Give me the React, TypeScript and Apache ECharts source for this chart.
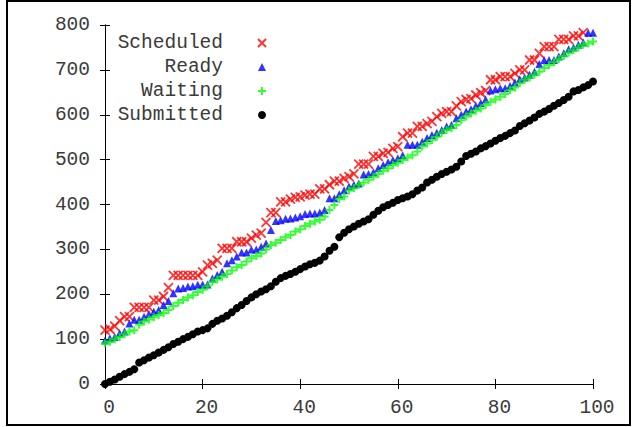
import React, { useEffect, useRef } from "react";
import * as echarts from "echarts";

const seriesNames = ["Scheduled", "Ready", "Waiting", "Submitted"];
const xTicks = [0, 20, 40, 60, 80, 100];
const yTicks = [0, 100, 200, 300, 400, 500, 600, 700, 800];

// Values indexed by x = 0, 1, 2, ...
const scheduled = [
  120, 122, 129, 141, 150, 150, 171, 171, 171, 171,
  187, 187, 195, 215, 242, 242, 242, 242, 242, 242,
  250, 265, 269, 276, 302, 302, 302, 317, 317, 317,
  325, 332, 336, 360, 382, 382, 406, 406, 412, 416,
  417, 421, 423, 423, 435, 435, 444, 452, 452, 458,
  462, 468, 490, 490, 490, 507, 507, 514, 516, 525,
  529, 551, 559, 559, 574, 574, 580, 585, 596, 603,
  607, 607, 620, 629, 634, 636, 644, 649, 654, 678,
  678, 685, 685, 685, 692, 700, 700, 722, 722, 737,
  752, 752, 752, 768, 768, 768, 776, 776, 783,
];
const ready = [
  97, 102, 105, 113, 117, 135, 143, 143, 150, 156,
  161, 165, 176, 185, 202, 213, 214, 217, 218, 221,
  222, 222, 235, 243, 250, 269, 276, 284, 293, 293,
  300, 300, 306, 313, 343, 363, 365, 368, 369, 371,
  374, 379, 380, 380, 382, 388, 414, 414, 423, 432,
  440, 444, 447, 467, 468, 472, 481, 488, 494, 499,
  503, 510, 533, 533, 533, 540, 548, 555, 560, 566,
  574, 577, 592, 600, 607, 612, 620, 626, 634, 654,
  657, 659, 659, 664, 672, 679, 683, 689, 696, 713,
  722, 722, 722, 730, 737, 746, 750, 756, 761, 783,
  783,
];
const waiting = [
  91, 94, 100, 105, 111, 117, 120, 132, 139, 144,
  149, 154, 158, 165, 174, 181, 187, 193, 198, 205,
  210, 218, 228, 233, 239, 245, 253, 260, 265, 273,
  280, 285, 291, 300, 310, 315, 321, 327, 332, 340,
  345, 352, 357, 362, 366, 373, 388, 399, 412, 418,
  431, 436, 444, 449, 455, 462, 468, 475, 481, 488,
  493, 499, 505, 510, 518, 529, 536, 544, 551, 560,
  566, 570, 577, 588, 596, 603, 609, 614, 622, 629,
  634, 640, 646, 655, 661, 670, 678, 683, 689, 696,
  704, 711, 717, 724, 731, 738, 744, 750, 756, 759,
  763,
];
const submitted = [
  0, 5, 10, 16, 22, 27, 33, 48, 53, 59,
  64, 70, 76, 82, 89, 94, 100, 105, 111, 117,
  120, 124, 134, 141, 146, 152, 160, 169, 176, 185,
  193, 200, 206, 211, 218, 228, 236, 241, 245, 250,
  256, 262, 267, 270, 275, 284, 297, 306, 327, 337,
  345, 351, 357, 362, 367, 377, 386, 394, 399, 404,
  410, 414, 418, 423, 431, 438, 449, 455, 462, 468,
  473, 478, 484, 496, 508, 513, 518, 525, 530, 536,
  542, 548, 553, 559, 565, 575, 581, 587, 594, 602,
  607, 613, 620, 626, 633, 640, 652, 655, 661, 666,
  674,
];

const FONT = "'Liberation Mono', 'Courier New', monospace";
const TEXT_COLOR = "#3a3a3a";

const toPoints = (arr: number[]) => arr.map((v, i) => [i, v]);

export default function App() {
  const ref = useRef<HTMLDivElement>(null);

  useEffect(() => {
    if (!ref.current) return;
    const chart = echarts.init(ref.current, undefined, { renderer: "svg" });

    const axisLine = { show: true, lineStyle: { color: "#000", width: 1 } };
    const axisTick = { show: true, inside: true, length: 5, lineStyle: { color: "#000", width: 1 } };
    const label = { fontFamily: FONT, fontSize: 19.5, color: TEXT_COLOR };

    chart.setOption({
      animation: false,
      backgroundColor: "#fff",
      grid: { left: 105, top: 25, width: 488, height: 359, containLabel: false },
      graphic: [
        {
          type: "rect",
          shape: { x: 7, y: 1, width: 623, height: 424 },
          style: { fill: "none", stroke: "#000", lineWidth: 2 },
          silent: true,
        },
      ],
      legend: {
        orient: "vertical",
        align: "right",
        right: 366,
        top: 31,
        padding: 0,
        itemGap: 0,
        itemWidth: 8,
        itemHeight: 8,
        data: seriesNames,
        textStyle: { ...label, lineHeight: 24, padding: [0, 30, 0, 0] },
      },
      xAxis: [
        {
          type: "value",
          position: "bottom",
          min: xTicks[0],
          max: xTicks[xTicks.length - 1],
          interval: 20,
          axisLine,
          axisTick,
          splitLine: { show: false },
          axisLabel: { ...label, margin: 14, padding: [0, 0, 0, 8] },
        },
        {
          type: "value",
          position: "top",
          min: xTicks[0],
          max: xTicks[xTicks.length - 1],
          interval: 20,
          axisLine,
          axisTick,
          splitLine: { show: false },
          axisLabel: { show: false },
        },
      ],
      yAxis: [
        {
          type: "value",
          position: "left",
          min: yTicks[0],
          max: yTicks[yTicks.length - 1],
          interval: 100,
          axisLine,
          axisTick,
          splitLine: { show: false },
          axisLabel: { ...label, margin: 15 },
        },
        {
          type: "value",
          position: "right",
          min: yTicks[0],
          max: yTicks[yTicks.length - 1],
          interval: 100,
          axisLine,
          axisTick,
          splitLine: { show: false },
          axisLabel: { show: false },
        },
      ],
      series: [
        {
          name: seriesNames[0],
          type: "scatter",
          data: toPoints(scheduled),
          symbol: "path://M0,0L10,10M10,0L0,10",
          symbolSize: 9,
          itemStyle: { color: "rgba(0,0,0,0)", borderColor: "#ff0000", borderWidth: 1.8 },
        },
        {
          name: seriesNames[1],
          type: "scatter",
          data: toPoints(ready),
          symbol: "triangle",
          symbolSize: 8,
          itemStyle: { color: "#0000ff" },
        },
        {
          name: seriesNames[2],
          type: "scatter",
          data: toPoints(waiting),
          symbol: "path://M5,0L5,10M0,5L10,5",
          symbolSize: 8,
          itemStyle: { color: "rgba(0,0,0,0)", borderColor: "#00ff00", borderWidth: 2 },
        },
        {
          name: seriesNames[3],
          type: "scatter",
          data: toPoints(submitted),
          symbol: "circle",
          symbolSize: 8,
          itemStyle: { color: "#000", opacity: 1 },
        },
      ],
    });

    return () => chart.dispose();
  }, []);

  return (
    <div
      ref={ref}
      style={{ position: "absolute", left: 0, top: 0, width: 633, height: 427, background: "#fff" }}
    />
  );
}
